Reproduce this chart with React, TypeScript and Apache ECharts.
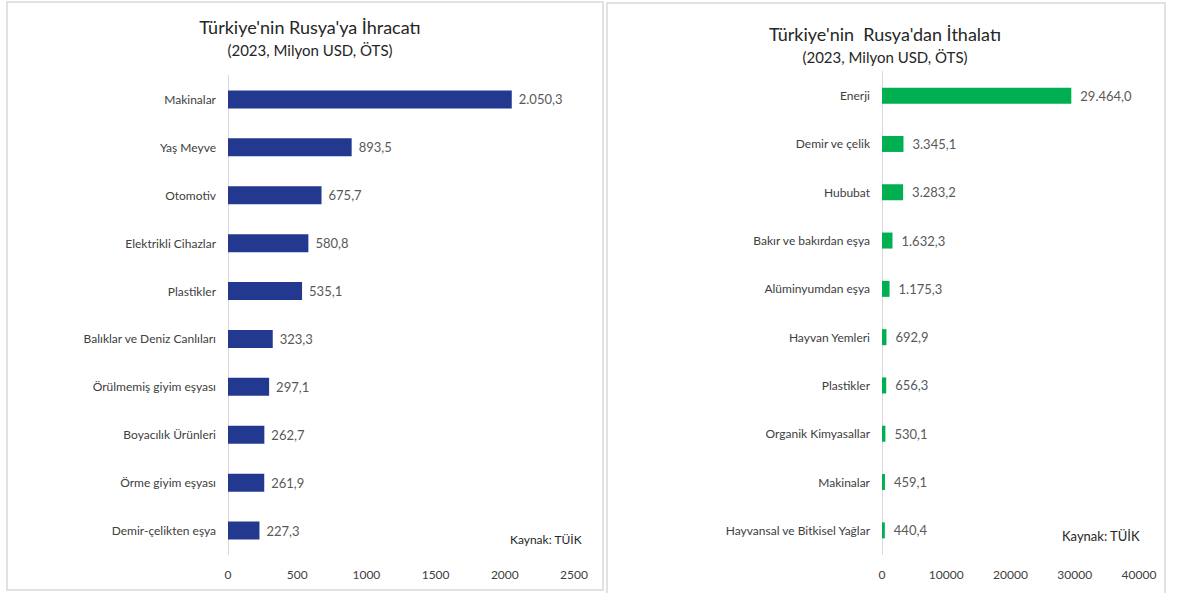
import React, { useEffect, useRef } from "react";
import * as echarts from "echarts";

const exportCats = [
  "Makinalar",
  "Yaş Meyve",
  "Otomotiv",
  "Elektrikli Cihazlar",
  "Plastikler",
  "Balıklar ve Deniz Canlıları",
  "Örülmemiş giyim eşyası",
  "Boyacılık Ürünleri",
  "Örme giyim eşyası",
  "Demir-çelikten eşya",
];
const exportVals = [2050.3, 893.5, 675.7, 580.8, 535.1, 323.3, 297.1, 262.7, 261.9, 227.3];

const importCats = [
  "Enerji",
  "Demir ve çelik",
  "Hububat",
  "Bakır ve bakırdan eşya",
  "Alüminyumdan eşya",
  "Hayvan Yemleri",
  "Plastikler",
  "Organik Kimyasallar",
  "Makinalar",
  "Hayvansal ve Bitkisel Yağlar",
];
const importVals = [29464.0, 3345.1, 3283.2, 1632.3, 1175.3, 692.9, 656.3, 530.1, 459.1, 440.4];

const FONT = "Lato, 'Open Sans', sans-serif";

function trFormat(v: number): string {
  const fixed = v.toFixed(1);
  const [intPart, dec] = fixed.split(".");
  const withSep = intPart.replace(/\B(?=(\d{3})+(?!\d))/g, ".");
  return withSep + "," + dec;
}

export default function App() {
  const ref = useRef<HTMLDivElement>(null);
  useEffect(() => {
    if (!ref.current) return;
    const chart = echarts.init(ref.current, undefined, { renderer: "svg" });
    const catAxisCommon = {
      type: "category" as const,
      inverse: true,
      axisTick: { show: false },
      axisLine: { show: true, lineStyle: { color: "#D9D9D9", width: 1 } },
      axisLabel: { color: "#404040", fontSize: 12, fontFamily: FONT, margin: 12 },
    };
    const valAxisCommon = {
      type: "value" as const,
      axisLine: { show: false },
      axisTick: { show: false },
      splitLine: { show: false },
      axisLabel: {
        color: "#404040",
        fontSize: 12,
        fontFamily: FONT,
        margin: 14,
        formatter: (v: number) => String(v),
      },
    };
    chart.setOption({
      animation: false,
      backgroundColor: "#ffffff",
      title: [
        {
          text: "Türkiye'nin Rusya'ya İhracatı",
          subtext: "(2023, Milyon USD, ÖTS)",
          left: 305,
          top: 13,
          textAlign: "center",
          itemGap: 6,
          textStyle: { fontSize: 18, fontWeight: "normal", color: "#262626", fontFamily: FONT },
          subtextStyle: { fontSize: 15, color: "#262626", fontFamily: FONT },
        },
        {
          text: "Türkiye'nin  Rusya'dan İthalatı",
          subtext: "(2023, Milyon USD, ÖTS)",
          left: 880,
          top: 20,
          textAlign: "center",
          itemGap: 6,
          textStyle: { fontSize: 18, fontWeight: "normal", color: "#262626", fontFamily: FONT },
          subtextStyle: { fontSize: 15, color: "#262626", fontFamily: FONT },
        },
      ],
      graphic: [
        {
          type: "rect",
          shape: { x: 7, y: 2, width: 596, height: 588 },
          style: { fill: "none", stroke: "#D9D9D9", lineWidth: 1.5 },
          silent: true,
        },
        {
          type: "rect",
          shape: { x: 607, y: 3, width: 558, height: 600 },
          style: { fill: "none", stroke: "#D9D9D9", lineWidth: 1.5 },
          silent: true,
        },
        {
          type: "text",
          left: 510,
          top: 533,
          style: { text: "Kaynak: TÜİK", fontSize: 12, fill: "#262626", fontFamily: FONT },
        },
        {
          type: "text",
          left: 1062,
          top: 529,
          style: { text: "Kaynak: TÜİK", fontSize: 13, fill: "#262626", fontFamily: FONT },
        },
      ],
      grid: [
        { left: 228, width: 346, top: 75.5, height: 479 },
        { left: 882, width: 257, top: 71.5, height: 483 },
      ],
      xAxis: [
        { ...valAxisCommon, gridIndex: 0, min: 0, max: 2500, interval: 500 },
        { ...valAxisCommon, gridIndex: 1, min: 0, max: 40000, interval: 10000 },
      ],
      yAxis: [
        { ...catAxisCommon, gridIndex: 0, data: exportCats },
        { ...catAxisCommon, gridIndex: 1, data: importCats },
      ],
      series: [
        {
          type: "bar",
          xAxisIndex: 0,
          yAxisIndex: 0,
          data: exportVals,
          barWidth: 18,
          itemStyle: { color: "#22398F" },
          label: {
            show: true,
            position: "right",
            distance: 7,
            color: "#595959",
            fontSize: 13,
            fontFamily: FONT,
            formatter: (p: any) => trFormat(p.value),
          },
        },
        {
          type: "bar",
          xAxisIndex: 1,
          yAxisIndex: 1,
          data: importVals,
          barWidth: 16,
          itemStyle: { color: "#00B050" },
          label: {
            show: true,
            position: "right",
            distance: 9,
            color: "#595959",
            fontSize: 13,
            fontFamily: FONT,
            formatter: (p: any) => trFormat(p.value),
          },
        },
      ],
    });
    return () => chart.dispose();
  }, []);
  return (
    <div
      ref={ref}
      style={{ position: "fixed", left: 0, top: 0, width: 1185, height: 593 }}
    />
  );
}
